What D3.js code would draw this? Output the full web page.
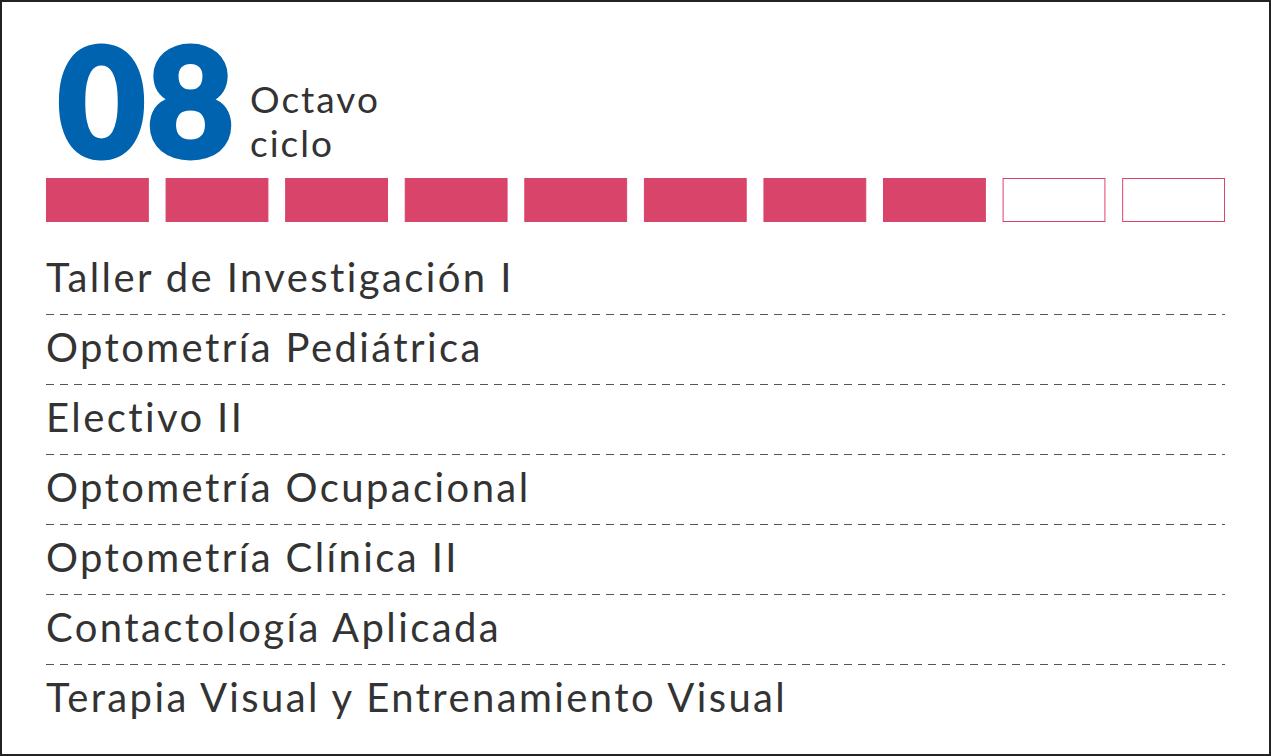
<!DOCTYPE html>
<html><head><meta charset="utf-8">
<script src="https://cdn.jsdelivr.net/npm/d3@7"></script>
<style>body{margin:0;background:#fff}</style></head>
<body><svg id="c" width="1271" height="756"></svg>
<script>
const cycleNumber = "08";
const cycleLabel = ["Octavo", "ciclo"];
const totalCycles = 10;
const currentCycle = 8;
const courses = [
  "Taller de Investigación I",
  "Optometría Pediátrica",
  "Electivo II",
  "Optometría Ocupacional",
  "Optometría Clínica II",
  "Contactología Aplicada",
  "Terapia Visual y Entrenamiento Visual"
];

const svg = d3.select("#c");
svg.append("rect").attr("x",1).attr("y",1).attr("width",1269).attr("height",754)
  .attr("fill","#fff").attr("stroke","#222").attr("stroke-width",2);

svg.append("text").text(cycleNumber).attr("x",58).attr("y",157)
  .attr("font-family","Lato, 'Open Sans', sans-serif").attr("font-weight",900)
  .attr("font-size",150).attr("fill","#0063AF").attr("stroke","#0063AF").attr("stroke-width",5)
  .attr("letter-spacing",2);
svg.selectAll("text.lab").data(cycleLabel).join("text").attr("class","lab")
  .text(d=>d).attr("x",250).attr("y",(d,i)=>113+i*44)
  .attr("font-family","Lato, sans-serif").attr("font-size",37).attr("fill","#333")
  .attr("letter-spacing",2);

const cycles = d3.range(1,totalCycles+1);
const xb = d3.scaleBand().domain(cycles).range([46,1225]).paddingInner(0.14);
svg.selectAll("rect.box").data(cycles).join("rect").attr("class","box")
  .attr("x",d=>xb(d)+0.5).attr("y",178.5).attr("width",xb.bandwidth()-1).attr("height",43)
  .attr("fill",d=>d<=currentCycle?"#D9446A":"#fff")
  .attr("stroke","#D9446A").attr("stroke-width",1);

const y = d3.scaleBand().domain(d3.range(courses.length)).range([245,735]);
const g = svg.selectAll("g.row").data(courses).join("g").attr("class","row");
g.append("text").text(d=>d).attr("x",46).attr("y",(d,i)=>y(i)+47)
  .attr("font-family","Lato, sans-serif").attr("font-size",40).attr("fill","#333")
  .attr("letter-spacing",2.4);
svg.selectAll("line.sep").data(d3.range(1,courses.length)).join("line").attr("class","sep")
  .attr("x1",46).attr("x2",1225).attr("y1",i=>y(i)-0.5).attr("y2",i=>y(i)-0.5)
  .attr("stroke","#555").attr("stroke-width",1).attr("stroke-dasharray","8,6");
</script></body></html>
